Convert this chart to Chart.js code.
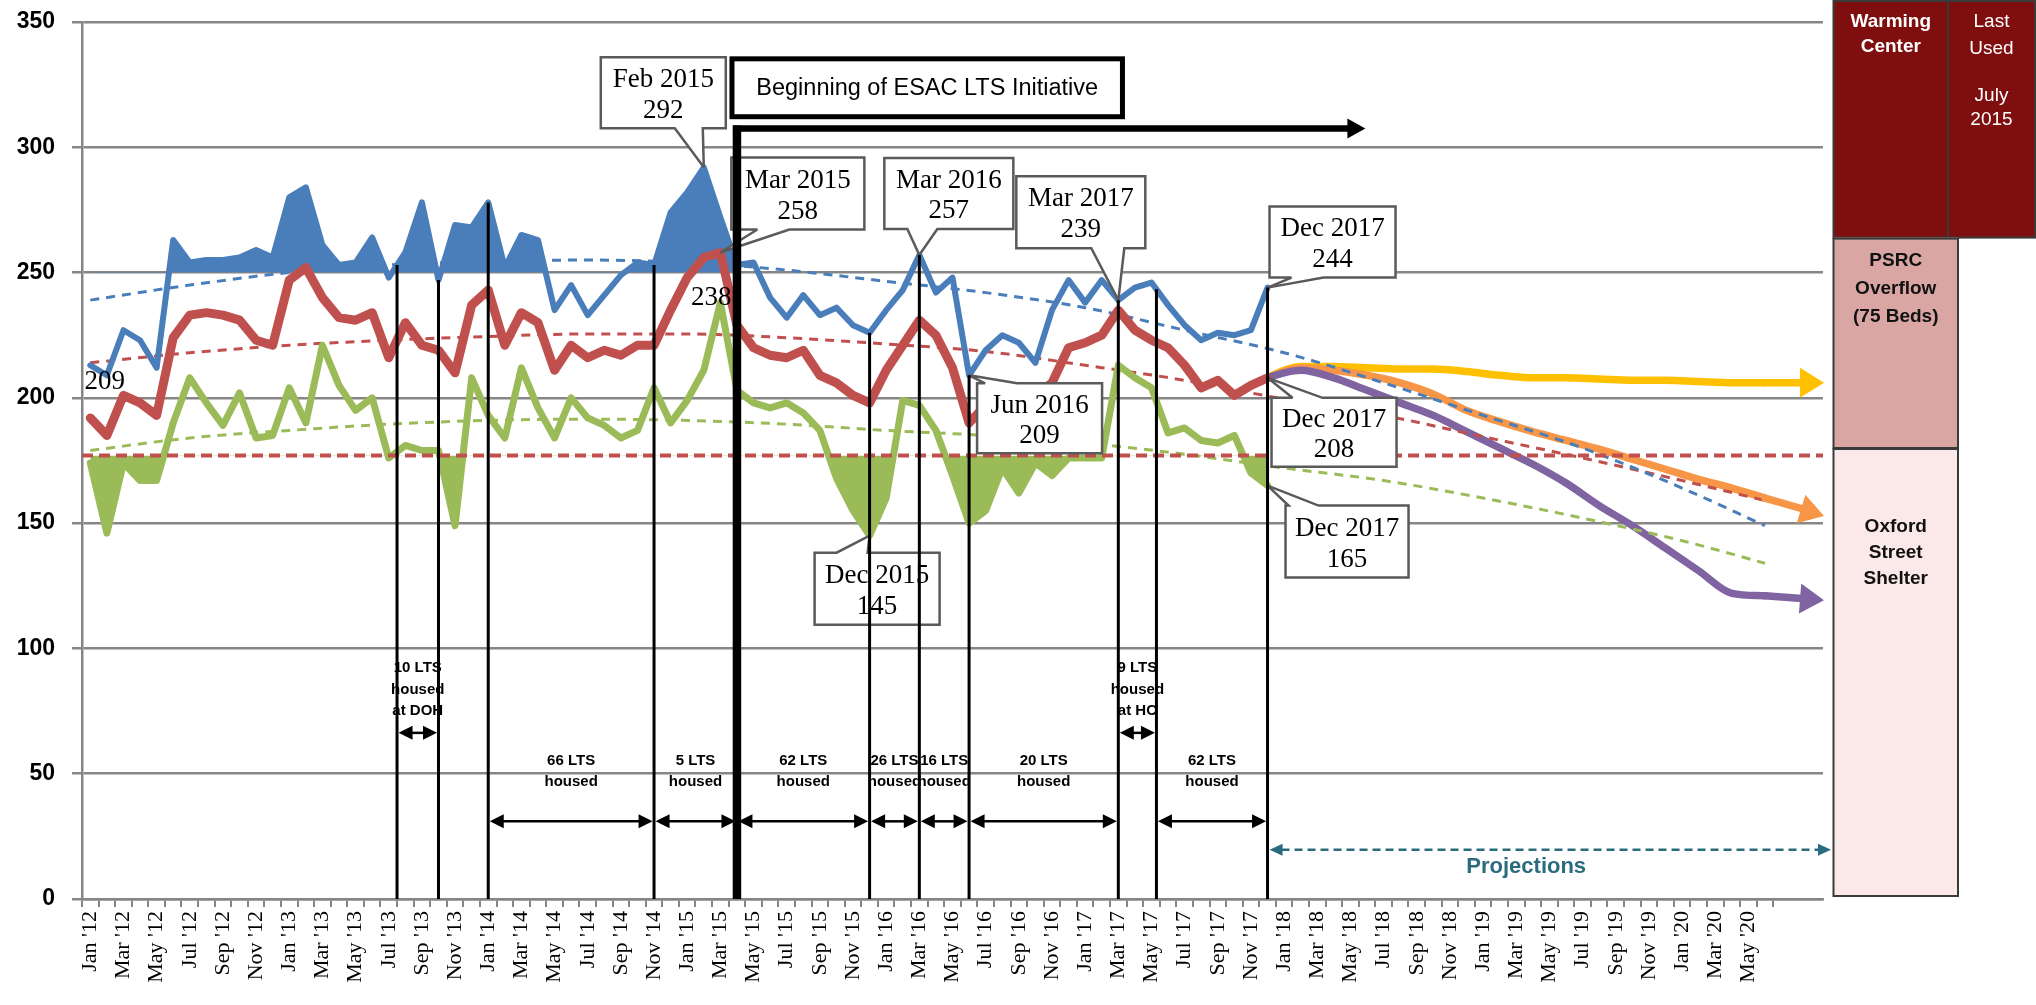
<!DOCTYPE html>
<html>
<head>
<meta charset="utf-8">
<script src="https://cdn.jsdelivr.net/npm/chart.js@4.4.1/dist/chart.umd.min.js"></script>
<style>
  html, body { margin: 0; background: #fff; }
  canvas { display: block; }
</style>
</head>
<body>
<canvas id="shelterChart" width="2036" height="1005"></canvas>
<script>
const monthNames = ['Jan', 'Feb', 'Mar', 'Apr', 'May', 'Jun', 'Jul', 'Aug', 'Sep', 'Oct', 'Nov', 'Dec'];
const years = ['12', '13', '14', '15', '16', '17', '18', '19', '20'];
const monthCount = 102;   // Jan '12 .. Jun '20
const spareSlots = 3;     // unlabeled room at the right end of the axis

// nightly counts, Jan 2012 - Dec 2017
const maxCount = [
  213, 209, 227, 223, 212, 263, 254, 255, 255, 256, 259, 256,
  280, 284, 261, 253, 254, 264, 248, 258, 278, 247, 269, 268,
  278, 252, 265, 263, 235, 245, 233, 241, 249, 254, 253, 274,
  282, 292, 272, 253, 254, 240, 232, 241, 233, 236, 229, 226,
  235, 243, 257, 242, 248, 209, 219, 225, 222, 214, 235, 247,
  238, 247, 239, 244, 246, 237, 229, 223, 226, 225, 227, 244
];
const avgCount = [
  192, 185, 201, 198, 193, 224, 233, 234, 233, 231, 223, 221,
  247, 252, 240, 232, 231, 234, 216, 230, 221, 219, 210, 237,
  243, 221, 234, 230, 211, 221, 216, 219, 217, 221, 221, 235,
  248, 256, 258, 229, 220, 217, 216, 219, 209, 206, 201, 198,
  211, 221, 231, 225, 212, 190, 197, 203, 203, 201, 206, 220,
  222, 225, 235, 227, 223, 220, 213, 204, 207, 201, 205, 208
];
const minCount = [
  174, 146, 174, 167, 167, 190, 208, 198, 189, 202, 184, 185,
  204, 190, 221, 205, 195, 200, 176, 181, 179, 179, 149, 208,
  193, 184, 212, 196, 184, 200, 192, 189, 184, 187, 204, 190,
  199, 211, 238, 203, 198, 196, 198, 194, 187, 168, 155, 145,
  160, 199, 197, 187, 169, 150, 155, 172, 162, 174, 169, 176,
  176, 176, 213, 208, 204, 186, 188, 183, 182, 185, 170, 165
];

const initiativeMonth = 39;   // Apr 2015
const initiativeArrowEnd = 76.9;
const initiativeLevel = 307.5;
const highLevel = 250;
const shelterBeds = 177;

// trend lines, read every six months
const trendMonths = [0, 6, 12, 18, 24, 30, 36, 42, 48, 54, 60, 66, 72, 78, 84, 90, 96, 101];
const maxTrend = [239, 245, 250, 253, 254.5, 255, 254, 251, 246.5, 242, 236, 227, 218, 206, 193, 180, 164, 149];
const avgTrend = [214, 218, 221, 223, 224.5, 225.5, 225.5, 224, 221.5, 218.5, 213, 207, 199.5, 193, 184.5, 176, 167, 159];
const minTrend = [179, 184, 187, 189.5, 191, 191.5, 191, 189.5, 187, 185, 182, 177.5, 172, 167, 160, 152, 143, 134];

// projections from Dec 2017
const projMonths = [71, 72, 73, 75, 77, 79, 81, 83, 85, 87, 89, 91, 93, 95, 97, 99, 101];
const projFlat = [208, 211, 212.5, 212.5, 212, 211.5, 211.5, 210.5, 209, 208, 208, 207.5, 207, 207, 206.5, 206, 206];
const projMid = [208, 210.5, 212, 211, 209, 206, 201.5, 195, 190.5, 186.5, 183, 179.5, 175.5, 171.5, 167.5, 164, 160];
const projLow = [208, 210, 211, 208, 203, 198, 193, 186.5, 180, 173.5, 166, 157, 149, 140, 131, 122, 121];

// callouts: month, series, title (value comes from the series)
const calloutMonths = [37, 38, 50, 62, 71, 53, 71, 71, 47];
const calloutSeries = ['max', 'avg', 'max', 'max', 'max', 'max', 'avg', 'min', 'min'];
const calloutTitles = ['Feb 2015', 'Mar 2015', 'Mar 2016', 'Mar 2017', 'Dec 2017', 'Jun 2016', 'Dec 2017', 'Dec 2017', 'Dec 2015'];
const plainMonths = [1, 38];
const plainSeries = ['max', 'min'];

// vertical markers and housing spans
const markerMonths = [18.5, 21, 24, 34, 47, 50, 53, 62, 64.3, 71];
const housedFrom = [18.5, 24, 34, 39, 47, 50, 53, 62, 64.3];
const housedTo = [21, 34, 39, 47, 50, 53, 62, 64.3, 71];
const housedText = [
  ['10 LTS', 'housed', 'at DOH'], ['66 LTS', 'housed'], ['5 LTS', 'housed'], ['62 LTS', 'housed'],
  ['26 LTS', 'housed'], ['16 LTS', 'housed'], ['20 LTS', 'housed'], ['9 LTS', 'housed', 'at HC'], ['62 LTS', 'housed']
];
const projectionStart = 71;

// ---- styling / layout ----
const colors = {
  max: '#4a7ebb', avg: '#c0504d', min: '#9bbb59',
  flat: '#ffc000', mid: '#f79646', low: '#8064a2',
  teal: '#2b6b7e', grid: '#868686', callout: '#5a5a5a'
};
const calloutBoxes = [
  { dx: -103, dy: -110, w: 125, h: 71, side: 'bottom', a: 74, b: 102 },
  { dx: 11, dy: -95, w: 133, h: 72, side: 'bottom', a: 26, b: 58 },
  { dx: -35, dy: -97, w: 129, h: 71, side: 'bottom', a: 23, b: 53 },
  { dx: -102, dy: -124, w: 129, h: 72, side: 'bottom', a: 75, b: 108 },
  { dx: 2, dy: -81, w: 126, h: 71, side: 'bottom', a: 22, b: 54 },
  { dx: 8, dy: 8, w: 125, h: 70, side: 'top', a: 8, b: 40 },
  { dx: 4, dy: 20, w: 125, h: 69, side: 'top', a: 21, b: 51 },
  { dx: 18, dy: 20, w: 123, h: 72, side: 'top', a: 3, b: 33 },
  { dx: -55, dy: 17, w: 125, h: 72, side: 'top', a: 22, b: 53 }
];
const plainOffsets = [{ dx: -2, dy: 7 }, { dx: -9, dy: -5 }];
const panels = [
  { x: 1833.5, y: 0, w: 114.5, h: 237.6, fill: '#7f0f0f', color: '#fff', bold: true, lines: ['Warming', 'Center'], at: [22, 47] },
  { x: 1948, y: 0, w: 87, h: 237.6, fill: '#7f0f0f', color: '#fff', bold: false, lines: ['Last', 'Used', '', 'July', '2015'], at: [22, 49, 72, 96, 120] },
  { x: 1833.5, y: 237.6, w: 124.5, h: 210.4, fill: '#d9a6a4', color: '#111', bold: true, lines: ['PSRC', 'Overflow', '(75 Beds)'], at: [261, 289, 317] },
  { x: 1833.5, y: 448, w: 124.5, h: 448, fill: '#fbe9e9', color: '#111', bold: true, lines: ['Oxford', 'Street', 'Shelter'], at: [527, 553, 579] }
];

const seriesOf = { max: maxCount, avg: avgCount, min: minCount };
const labels = [];
for (let i = 0; i < monthCount + spareSlots; i++) {
  labels.push(i < monthCount ? monthNames[i % 12] + " '" + years[Math.floor(i / 12)] : '');
}

function slice(values, from, to) {
  const out = new Array(labels.length).fill(null);
  for (let i = from; i <= to; i++) out[i] = values[i];
  return out;
}
function spread(months, values) {
  const out = new Array(labels.length).fill(null);
  months.forEach((m, k) => { out[m] = values[k]; });
  return out;
}
function valueAt(values, m) {
  const i = Math.floor(m), f = m - i;
  return f ? values[i] + (values[i + 1] - values[i]) * f : values[i];
}

function seg(ctx, x1, y1, x2, y2, width, color, dash, cap) {
  ctx.save();
  ctx.beginPath();
  ctx.setLineDash(dash || []);
  ctx.lineCap = cap || 'butt';
  ctx.moveTo(x1, y1);
  ctx.lineTo(x2, y2);
  ctx.lineWidth = width;
  ctx.strokeStyle = color;
  ctx.stroke();
  ctx.restore();
}
function head(ctx, x, y, angle, len, half, color) {
  ctx.save();
  ctx.translate(x, y);
  ctx.rotate(angle);
  ctx.beginPath();
  ctx.moveTo(0, 0);
  ctx.lineTo(-len, -half);
  ctx.lineTo(-len, half);
  ctx.closePath();
  ctx.fillStyle = color;
  ctx.fill();
  ctx.restore();
}
function doubleArrow(ctx, x1, x2, y, width, len, half, color, dash) {
  seg(ctx, x1 + len - 1, y, x2 - len + 1, y, width, color, dash);
  head(ctx, x1, y, Math.PI, len, half, color);
  head(ctx, x2, y, 0, len, half, color);
}

function drawCallout(ctx, px, py, box, lines) {
  const L = px + box.dx, T = py + box.dy, R = L + box.w, B = T + box.h;
  ctx.save();
  ctx.beginPath();
  if (box.side === 'bottom') {
    ctx.moveTo(L, T); ctx.lineTo(R, T); ctx.lineTo(R, B);
    ctx.lineTo(L + box.b, B); ctx.lineTo(px, py); ctx.lineTo(L + box.a, B); ctx.lineTo(L, B);
  } else {
    ctx.moveTo(L, T); ctx.lineTo(L + box.a, T); ctx.lineTo(px, py); ctx.lineTo(L + box.b, T);
    ctx.lineTo(R, T); ctx.lineTo(R, B); ctx.lineTo(L, B);
  }
  ctx.closePath();
  ctx.fillStyle = '#fff';
  ctx.fill();
  ctx.lineWidth = 2.5;
  ctx.lineJoin = 'miter';
  ctx.miterLimit = 3;
  ctx.strokeStyle = colors.callout;
  ctx.stroke();
  ctx.fillStyle = '#000';
  ctx.font = '27px "Liberation Serif", serif';
  ctx.textAlign = 'center';
  ctx.textBaseline = 'middle';
  ctx.fillText(lines[0], (L + R) / 2, T + box.h * 0.32);
  ctx.fillText(lines[1], (L + R) / 2, T + box.h * 0.75);
  ctx.restore();
}

const annotations = {
  id: 'annotations',
  afterDatasetsDraw(chart) {
    const ctx = chart.ctx, xs = chart.scales.x, ys = chart.scales.y, area = chart.chartArea;
    const X = m => xs.getPixelForValue(m), Y = v => ys.getPixelForValue(v);

    // shelter capacity line
    seg(ctx, area.left, Y(shelterBeds), area.right, Y(shelterBeds), 4, colors.avg, [11, 6]);

    // arrow tips on the projection lines
    [[projFlat, colors.flat], [projMid, colors.mid], [projLow, colors.low]].forEach(([vals, col]) => {
      const n = projMonths.length;
      const x1 = X(projMonths[n - 2]), y1 = Y(vals[n - 2]);
      const x2 = X(projMonths[n - 1]), y2 = Y(vals[n - 1]);
      const ang = Math.atan2(y2 - y1, x2 - x1);
      const tipX = area.right + 1;
      const tipY = y2 + Math.tan(ang) * (tipX - x2);
      const len = 24;
      seg(ctx, x2, y2, tipX - len * Math.cos(ang) + 2, tipY - len * Math.sin(ang), 7.5, col, null, 'round');
      head(ctx, tipX, tipY, ang, len, 15, col);
    });

    // callouts
    calloutMonths.forEach((m, k) => {
      const v = seriesOf[calloutSeries[k]][m];
      drawCallout(ctx, X(m), Y(v), calloutBoxes[k], [calloutTitles[k], String(v)]);
    });
    ctx.save();
    ctx.font = '27px "Liberation Serif", serif';
    ctx.fillStyle = '#000';
    ctx.textAlign = 'center';
    ctx.textBaseline = 'middle';
    plainMonths.forEach((m, k) => {
      const v = seriesOf[plainSeries[k]][m];
      ctx.fillText(String(v), X(m) + plainOffsets[k].dx, Y(v) + plainOffsets[k].dy);
    });
    ctx.restore();

    // vertical markers up to the max line
    markerMonths.forEach(m => {
      seg(ctx, X(m), Y(0), X(m), Y(valueAt(maxCount, m)), 3, '#000');
    });

    // start of the initiative
    const ix = X(initiativeMonth), iy = Y(initiativeLevel);
    seg(ctx, ix, Y(0), ix, iy - 3, 8.5, '#000');
    seg(ctx, ix - 4, iy, X(initiativeArrowEnd) - 16, iy, 6.5, '#000');
    head(ctx, X(initiativeArrowEnd), iy, 0, 18, 10, '#000');

    ctx.save();
    const bl = X(38.7), br = X(62.25), bt = Y(335.3), bb = Y(312.2);
    ctx.fillStyle = '#fff';
    ctx.fillRect(bl, bt, br - bl, bb - bt);
    ctx.lineWidth = 5;
    ctx.strokeStyle = '#000';
    ctx.strokeRect(bl, bt, br - bl, bb - bt);
    ctx.fillStyle = '#000';
    ctx.font = '23.5px "Liberation Sans", sans-serif';
    ctx.textAlign = 'center';
    ctx.textBaseline = 'middle';
    ctx.fillText('Beginning of ESAC LTS Initiative', (bl + br) / 2, (bt + bb) / 2 + 1);
    ctx.restore();

    // housed spans
    ctx.save();
    ctx.font = 'bold 15px "Liberation Sans", sans-serif';
    ctx.fillStyle = '#000';
    ctx.textAlign = 'center';
    ctx.textBaseline = 'middle';
    housedFrom.forEach((from, k) => {
      const lines = housedText[k];
      const upper = lines.length > 2;
      const y = Y(upper ? 66.3 : 31);
      const lift = upper ? 22 : 39;
      const x1 = X(from), x2 = X(housedTo[k]);
      doubleArrow(ctx, x1 + 1.5, x2 - 1.5, y, 2.5, 14, 7, '#000');
      lines.forEach((t, j) => {
        ctx.fillText(t, (x1 + x2) / 2, y - lift - (lines.length - 1 - j) * 21.5);
      });
    });
    ctx.restore();

    // projections span
    const py = Y(19.7);
    doubleArrow(ctx, X(projectionStart) + 2, area.right + 8, py, 2.5, 13, 6, colors.teal, [8, 5]);
    ctx.save();
    ctx.font = 'bold 22px "Liberation Sans", sans-serif';
    ctx.fillStyle = colors.teal;
    ctx.textAlign = 'center';
    ctx.textBaseline = 'middle';
    ctx.fillText('Projections', X(86.6), Y(12.6));
    ctx.restore();
  },
  afterDraw(chart) {
    const ctx = chart.ctx;
    ctx.save();
    panels.forEach(p => {
      ctx.fillStyle = p.fill;
      ctx.fillRect(p.x, p.y, p.w, p.h);
      ctx.lineWidth = 2;
      ctx.strokeStyle = '#3a3a3a';
      ctx.strokeRect(p.x, p.y + 1, p.w, p.h - 1);
      ctx.fillStyle = p.color;
      ctx.font = (p.bold ? 'bold ' : '') + '19px "Liberation Sans", sans-serif';
      ctx.textAlign = 'center';
      ctx.textBaseline = 'middle';
      p.lines.forEach((t, j) => ctx.fillText(t, p.x + p.w / 2, p.at[j]));
    });
    ctx.restore();
  }
};

function seriesLine(data, color, width, fill) {
  return {
    data, borderColor: color, borderWidth: width, pointRadius: 0,
    borderJoinStyle: 'round', borderCapStyle: 'round', tension: 0,
    spanGaps: false, fill: fill || false
  };
}
function smoothLine(data, color, width, dash) {
  return {
    data, borderColor: color, borderWidth: width, pointRadius: 0,
    borderDash: dash || [], cubicInterpolationMode: 'monotone',
    spanGaps: true, fill: false, borderCapStyle: dash ? 'butt' : 'round'
  };
}

new Chart(document.getElementById('shelterChart'), {
  type: 'line',
  data: {
    labels,
    datasets: [
      seriesLine(avgCount, colors.avg, 9),
      seriesLine(minCount, colors.min, 7, { target: { value: shelterBeds }, above: 'rgba(0,0,0,0)', below: colors.min }),
      seriesLine(slice(maxCount, 0, initiativeMonth), colors.max, 6, { target: { value: highLevel }, above: colors.max, below: 'rgba(0,0,0,0)' }),
      seriesLine(slice(maxCount, initiativeMonth, maxCount.length - 1), colors.max, 6),
      smoothLine(spread(trendMonths, maxTrend), colors.max, 3, [9, 7]),
      smoothLine(spread(trendMonths, avgTrend), colors.avg, 3, [9, 7]),
      smoothLine(spread(trendMonths, minTrend), colors.min, 3, [9, 7]),
      smoothLine(spread(projMonths, projLow), colors.low, 7.5),
      smoothLine(spread(projMonths, projMid), colors.mid, 7.5),
      smoothLine(spread(projMonths, projFlat), colors.flat, 7.5)
    ]
  },
  options: {
    responsive: false,
    animation: false,
    devicePixelRatio: 1,
    layout: { padding: { top: 22, right: 213, left: 0, bottom: 0 } },
    plugins: { legend: { display: false }, tooltip: { enabled: false } },
    scales: {
      x: {
        type: 'category',
        offset: true,
        afterFit: s => { s.height = 106; s.paddingLeft = 0; s.paddingRight = 0; },
        grid: {
          offset: true,
          drawOnChartArea: false,
          tickLength: 8,
          lineWidth: 2,
          color: c => (c.index !== undefined && c.index <= monthCount ? colors.grid : 'rgba(0,0,0,0)')
        },
        border: { display: true, color: colors.grid, width: 2.5 },
        ticks: {
          autoSkip: false,
          maxRotation: 90,
          minRotation: 90,
          padding: 4,
          color: '#000',
          font: { family: 'Liberation Serif', size: 22 },
          callback: function (value, index) {
            return index % 2 === 0 && index < monthCount ? this.getLabelForValue(value) : '';
          }
        }
      },
      y: {
        min: 0,
        max: 350,
        afterFit: s => { s.width = 82; s.paddingTop = 10; s.paddingBottom = 0; },
        grid: { color: colors.grid, lineWidth: 2.5, tickLength: 10 },
        border: { color: colors.grid, width: 2.5 },
        ticks: {
          stepSize: 50,
          padding: 17,
          color: '#000',
          font: { family: 'Liberation Sans', size: 23, weight: 'bold' }
        }
      }
    }
  },
  plugins: [annotations]
});
</script>
</body>
</html>
